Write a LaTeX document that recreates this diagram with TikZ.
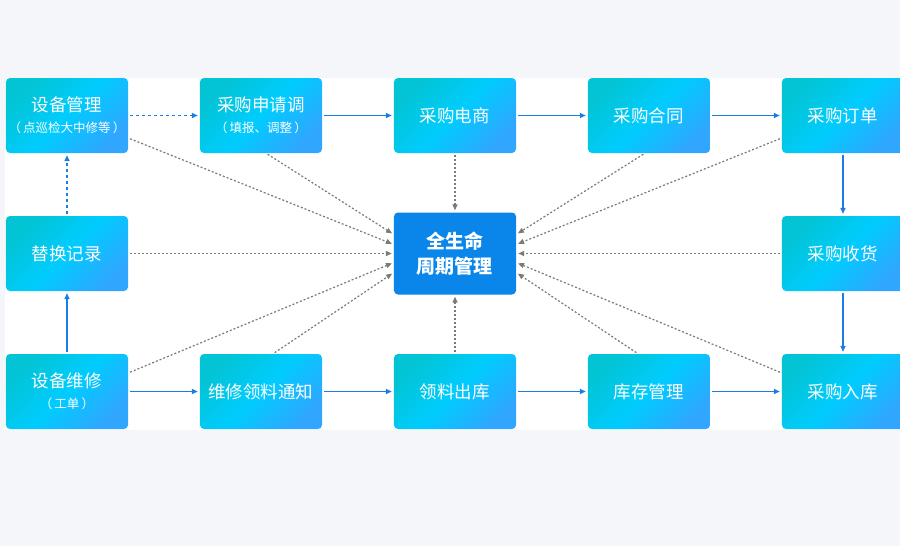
\documentclass[tikz,border=0pt]{standalone}
\usepackage{fontspec}
\setmainfont{Noto Sans CJK SC}
\usetikzlibrary{arrows.meta}

\definecolor{pagebg}{HTML}{F5F6FA}
\definecolor{boxteal}{HTML}{02C4D4}
\definecolor{boxcyan}{HTML}{00CCFE}
\definecolor{boxblue}{HTML}{30A6FF}
\definecolor{corefill}{HTML}{0A86EA}
\definecolor{flowblue}{HTML}{1A7DE4}
\definecolor{linkgray}{HTML}{7A7A7A}

\begin{document}
\begin{tikzpicture}[x=1pt,y=-1pt,
  every matrix/.style={ampersand replacement=\&,column sep={194pt,between origins},row sep={138pt,between origins}},
  box/.style={rounded corners=4pt, minimum width=122pt, minimum height=75pt, inner sep=0pt,
    top color=boxteal, bottom color=boxblue, middle color=boxcyan, shading angle=45,
    text=white, font=\fontsize{17.5}{22}\selectfont},
  corebox/.style={rounded corners=4pt, minimum width=122pt, minimum height=82pt, inner sep=0pt,
    fill=corefill, text=white, font=\bfseries\fontsize{19}{25}\selectfont},
  flow/.style={-{Triangle[length=6pt,width=5pt]}, line width=1.4pt, flowblue, shorten <=2pt, shorten >=2pt},
  plan/.style={flow, dash pattern=on 3pt off 3pt},
  link/.style={-{Triangle[length=6pt,width=5pt]}, line width=1.2pt, linkgray, dash pattern=on 2pt off 2pt, shorten <=2pt, shorten >=2pt},
  every node/.style={align=center}]

\clip (0,0) rectangle (900,546);
\fill[pagebg] (0,0) rectangle (900,546);
\fill[white] (5,78) rectangle (900,430);

% Position the nodes using a matrix layout
\matrix at (455,253.5) {
  \node[box] (equip) {设备管理\\[-1pt]{\fontsize{12.5}{14}\selectfont （\,点巡检大中修等\,）}};
  \& \node[box] (apply) {采购申请调\\[-1pt]{\fontsize{12.5}{14}\selectfont （\,填报、调整\,）}};
  \& \node[box] (mall) {采购电商};
  \& \node[box] (contract) {采购合同};
  \& \node[box] (order) {采购订单};
  \\
  \node[box] (record) {替换记录};
  \& \& \node[corebox] (core) {全生命\\周期管理};
  \& \& \node[box] (receive) {采购收货};
  \\
  \node[box] (repair) {设备维修\\[-1pt]{\fontsize{12.5}{14}\selectfont （\,工单\,）}};
  \& \node[box] (notice) {维修领料通知};
  \& \node[box] (pick) {领料出库};
  \& \node[box] (stock) {库存管理};
  \& \node[box] (instock) {采购入库};
  \\
};

% The process flow round the outside
\draw[plan] (equip) -- (apply);
\draw[flow] (apply) -- (mall);
\draw[flow] (mall) -- (contract);
\draw[flow] (contract) -- (order);
\draw[flow] (order) -- (receive);
\draw[flow] (receive) -- (instock);
\draw[flow] (repair) -- (notice);
\draw[flow] (notice) -- (pick);
\draw[flow] (pick) -- (stock);
\draw[flow] (stock) -- (instock);
\draw[flow] (repair) -- (record);
\draw[plan] (record) -- (equip);

% Everything feeds the life-cycle record in the middle
\draw[link] ([xshift=5pt]apply.south) -- ([yshift=19pt]core.west);
\draw[link] ([yshift=-22.5pt]equip.east) -- ([yshift=9pt]core.west);
\draw[link] (record) -- (core);
\draw[link] ([yshift=18.5pt]repair.east) -- ([yshift=-9pt]core.west);
\draw[link] ([xshift=12pt]notice.north) -- ([yshift=-19pt]core.west);
\draw[link] (mall) -- (core);
\draw[link] (pick) -- (core);
\draw[link] ([xshift=-4pt]contract.south) -- ([yshift=19pt]core.east);
\draw[link] ([yshift=-22.5pt]order.west) -- ([yshift=9pt]core.east);
\draw[link] (receive) -- (core);
\draw[link] ([yshift=18.5pt]instock.west) -- ([yshift=-9pt]core.east);
\draw[link] ([xshift=-11pt]stock.north) -- ([yshift=-19pt]core.east);

\end{tikzpicture}
\end{document}
